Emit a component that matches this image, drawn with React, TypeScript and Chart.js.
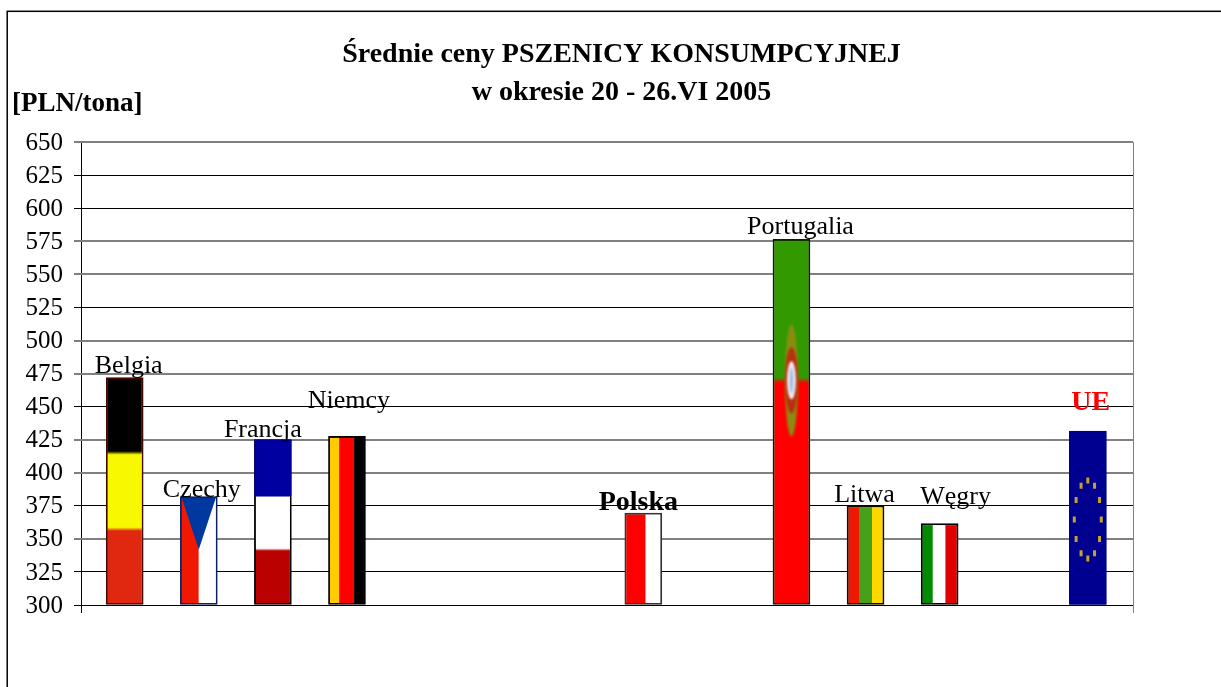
import React, { useEffect, useRef } from "react";
import { Chart, registerables } from "chart.js";

Chart.register(...registerables);

const titleLines = ["Średnie ceny PSZENICY KONSUMPCYJNEJ", "w okresie 20 - 26.VI 2005"];
const unitLabel = "[PLN/tona]";
const categories = ["Belgia", "Czechy", "Francja", "Niemcy", "", "", "", "Polska", "", "Portugalia", "Litwa", "Węgry", "", "UE"];
const prices = [472, 382, 425, 427.5, null, null, null, 369.5, null, 576.5, 375, 361.5, null, 431.5];
const borderColors = ["#400800", "#0a2060", "#000000", "#000000", "#000000", "#000000", "#000000", "#333333", "#000000", "#082000", "#100c00", "#000000", "#000000", "#000090"];
const grayTicks = [650, 575, 550, 500, 475, 425, 400, 350];

const serif = "'Liberation Serif', 'Times New Roman', serif";

type Rect = { x: number; y: number; w: number; h: number };

function hBands(c: CanvasRenderingContext2D, r: Rect, bands: [number, string][]) {
  const g = c.createLinearGradient(0, r.y, 0, r.y + r.h);
  let start = 0;
  bands.forEach(([end, col], i) => {
    g.addColorStop(i === 0 ? 0 : start + 0.008, col);
    g.addColorStop(i === bands.length - 1 ? 1 : end - 0.008, col);
    start = end;
  });
  c.fillStyle = g;
  c.fillRect(r.x, r.y, r.w, r.h);
}

function vBands(c: CanvasRenderingContext2D, r: Rect, bands: [number, string][]) {
  let start = 0;
  bands.forEach(([end, col]) => {
    c.fillStyle = col;
    c.fillRect(r.x + r.w * start, r.y, r.w * (end - start), r.h);
    start = end;
  });
}

const flagPainters: Record<string, (c: CanvasRenderingContext2D, r: Rect) => void> = {
  Belgia: (c, r) => hBands(c, r, [[0.33, "#000000"], [0.67, "#f8f800"], [1, "#e02810"]]),
  Czechy: (c, r) => {
    vBands(c, r, [[0.5, "#f01800"], [1, "#ffffff"]]);
    c.fillStyle = "#0038a0";
    c.beginPath();
    c.moveTo(r.x, r.y);
    c.lineTo(r.x + r.w, r.y);
    c.lineTo(r.x + r.w / 2, r.y + r.h * 0.49);
    c.closePath();
    c.fill();
  },
  Francja: (c, r) => {
    hBands(c, r, [[0.34, "#0000a0"], [0.67, "#ffffff"], [1, "#bb0000"]]);
    c.fillStyle = "#0000a0";
    c.fillRect(r.x - 1.5, r.y - 1.5, r.w + 3, r.h * 0.34 + 1.5);
  },
  Niemcy: (c, r) => vBands(c, r, [[0.27, "#ffcc00"], [0.71, "#ff0000"], [1, "#000000"]]),
  Polska: (c, r) => vBands(c, r, [[0.57, "#ff0000"], [1, "#ffffff"]]),
  Portugalia: (c, r) => {
    hBands(c, r, [[0.385, "#339900"], [1, "#ff0000"]]);
    const cx = r.x + r.w / 2;
    const cy = r.y + r.h * 0.385;
    const ellipse = (rx: number, ry: number, col: string) => {
      c.fillStyle = col;
      c.beginPath();
      c.ellipse(cx, cy, rx, ry, 0, 0, Math.PI * 2);
      c.fill();
    };
    c.save();
    c.filter = "blur(0.8px)";
    ellipse(6.5, 56, "#8a8c10");
    ellipse(6.5, 33, "#b83010");
    ellipse(4.5, 19, "#f0e8f4");
    ellipse(1.5, 13, "#90b8e8");
    c.restore();
  },
  Litwa: (c, r) => vBands(c, r, [[0.33, "#f01800"], [0.69, "#45a01a"], [1, "#ffd800"]]),
  "Węgry": (c, r) => vBands(c, r, [[0.3, "#008a00"], [0.67, "#ffffff"], [1, "#e00000"]]),
  UE: (c, r) => {
    c.fillStyle = "#000090";
    c.fillRect(r.x - 1.5, r.y - 1.5, r.w + 3, r.h + 3);
    const cx = r.x + r.w / 2;
    const cy = r.y + r.h * 0.51;
    c.save();
    c.filter = "blur(0.5px)";
    c.fillStyle = "#c8a030";
    for (let i = 0; i < 12; i++) {
      const a = (i * Math.PI) / 6;
      c.fillRect(cx + Math.sin(a) * 13.5 - 1.5, cy - Math.cos(a) * 39 - 3, 3, 6);
    }
    c.restore();
  },
};

const labelStyles: Record<string, { dx: number; dy: number; font: string; color: string }> = {
  Belgia: { dx: 4, dy: -5, font: `26px ${serif}`, color: "#000" },
  Czechy: { dx: 3, dy: 0, font: `26px ${serif}`, color: "#000" },
  Francja: { dx: -10, dy: -3, font: `26px ${serif}`, color: "#000" },
  Niemcy: { dx: 2, dy: -28, font: `26px ${serif}`, color: "#000" },
  Polska: { dx: -5, dy: -3, font: `bold 28px ${serif}`, color: "#000" },
  Portugalia: { dx: 9, dy: -5, font: `26px ${serif}`, color: "#000" },
  Litwa: { dx: -1, dy: -4, font: `26px ${serif}`, color: "#000" },
  "Węgry": { dx: 16, dy: -20, font: `26px ${serif}`, color: "#000" },
  UE: { dx: 3, dy: -21, font: `bold 28px ${serif}`, color: "#ff0000" },
};

const decorPlugin = {
  id: "decor",
  afterLayout(chart: any) {
    const tb = chart.titleBlock;
    tb.left += 55;
    tb.right += 55;
  },
  beforeDraw(chart: any) {
    const c: CanvasRenderingContext2D = chart.ctx;
    c.save();
    c.fillStyle = "#fff";
    c.fillRect(0, 0, chart.width, chart.height);
    c.strokeStyle = "#000";
    c.lineWidth = 1.5;
    c.strokeRect(7.2, 11.3, 1300, 800);
    c.font = `bold 27px ${serif}`;
    c.fillStyle = "#000";
    c.textBaseline = "alphabetic";
    c.textAlign = "left";
    c.fillText(unitLabel, 12, 111);
    c.restore();
  },
  afterDatasetsDraw(chart: any) {
    const c: CanvasRenderingContext2D = chart.ctx;
    const meta = chart.getDatasetMeta(0);
    c.save();
    meta.data.forEach((el: any, i: number) => {
      const name = categories[i];
      if (!name || prices[i] == null) return;
      const half = el.width / 2;
      const r = { x: el.x - half + 1.5, y: el.y + 1.5, w: el.width - 3, h: el.base - el.y - 3 };
      flagPainters[name]?.(c, r);
      const s = labelStyles[name];
      c.font = s.font;
      c.fillStyle = s.color;
      c.textAlign = "center";
      c.textBaseline = "alphabetic";
      c.fillText(name, el.x + s.dx, el.y + s.dy);
    });
    c.restore();
  },
};

export default function App() {
  const ref = useRef<HTMLCanvasElement>(null);
  useEffect(() => {
    const chart = new Chart(ref.current!, {
      type: "bar",
      data: {
        datasets: [
          {
            data: prices.map((y, x) => ({ x, y })) as any,
            base: 300,
            backgroundColor: "#ffffff",
            borderColor: borderColors,
            borderWidth: 2,
            borderSkipped: false,
            barThickness: 37,
          },
        ],
      },
      plugins: [decorPlugin],
      options: {
        responsive: false,
        animation: false,
        layout: { padding: { top: 0, left: 0, right: 88, bottom: 74 } },
        plugins: {
          legend: { display: false },
          tooltip: { enabled: false },
          title: {
            display: true,
            text: titleLines,
            color: "#000",
            font: { family: serif, size: 28, weight: "bold", lineHeight: 1.36 },
            padding: { top: 36, bottom: 30 },
          },
        },
        scales: {
          x: {
            type: "linear",
            offset: false,
            min: -0.59,
            max: 13.61,
            afterBuildTicks: (s: any) => {
              s.ticks = [{ value: s.min }, { value: s.max }];
            },
            ticks: { display: false },
            border: { display: false },
            grid: {
              offset: false,
              tickLength: 8,
              color: (ctx: any) => (ctx.index === 0 ? "#000000" : "#808080"),
            },
          },
          y: {
            min: 300,
            max: 650,
            afterFit: (s: any) => {
              s.width = 81;
            },
            ticks: {
              stepSize: 25,
              color: "#000",
              padding: 11,
              labelOffset: 1,
              font: { family: serif, size: 25 },
            },
            border: { display: false },
            grid: {
              tickLength: 7,
              color: (ctx: any) => (grayTicks.includes(ctx.tick?.value) ? "#808080" : "#000000"),
              lineWidth: (ctx: any) => (grayTicks.includes(ctx.tick?.value) ? 2 : 1),
            },
          },
        },
      },
    } as any);
    return () => chart.destroy();
  }, []);
  return (
    <canvas
      ref={ref}
      width={1221}
      height={687}
      style={{ position: "absolute", left: 0, top: 0, width: 1221, height: 687, display: "block" }}
    />
  );
}
